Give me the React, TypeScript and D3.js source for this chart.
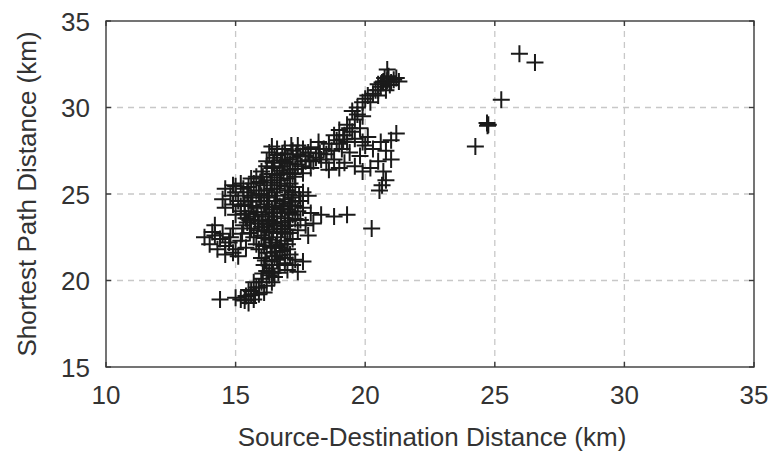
import React from "react";
import * as d3 from "d3";

const xTicks = [10, 15, 20, 25, 30, 35];
const yTicks = [15, 20, 25, 30, 35];

const outliers: [number, number][] = [
  [25.95, 33.1], [26.55, 32.6], [25.25, 30.45], [24.7, 29.1], [24.75, 29.0], [24.72, 28.95],
  [24.25, 27.75], [20.25, 23.0],
];

const upperArm: [number, number][] = [
  [20.85, 32.2], [20.9, 31.8], [21.1, 31.6], [20.7, 31.5], [21.3, 31.5], [20.95, 31.3],
  [20.6, 31.2], [20.4, 31.0], [20.8, 31.0], [21.2, 31.7], [20.3, 30.8], [20.5, 30.7],
  [20.1, 30.7], [19.9, 30.3], [19.7, 30.0], [20.0, 30.5], [19.5, 29.8], [19.9, 29.5],
  [19.6, 29.3], [19.3, 29.0], [19.8, 28.8], [19.5, 28.6], [19.2, 28.4], [19.0, 28.7],
  [19.6, 28.2], [19.3, 28.0], [18.9, 28.1], [18.6, 27.9], [19.9, 28.0], [19.1, 27.6],
  [18.7, 27.5], [19.4, 27.4], [20.0, 27.8], [18.4, 27.6], [19.8, 27.2], [20.1, 28.3],
  [18.5, 26.8], [18.8, 27.0], [19.2, 26.8], [18.6, 26.4], [19.0, 26.5],
  [20.65, 31.45], [20.5, 31.35], [20.75, 31.7], [21.0, 31.45],
  [19.4, 28.8], [19.15, 28.15], [19.7, 29.6], [20.2, 30.3], [19.0, 27.9], [18.8, 28.4],
  [20.5, 31.0], [20.85, 31.55],
];

const rightScatter: [number, number][] = [
  [21.2, 28.5], [21.0, 28.1], [20.6, 28.0], [20.3, 27.6], [20.8, 27.5], [21.0, 27.0],
  [20.5, 26.9], [20.2, 26.5], [19.9, 26.3], [20.7, 26.3], [19.6, 26.6], [20.8, 25.8],
  [20.65, 25.5], [20.55, 25.2], [18.8, 23.7], [19.3, 23.8], [18.3, 23.8], [17.9, 23.9],
];

const mainBlob: [number, number][] = [
  [16.3, 27.4], [16.6, 27.6], [16.9, 27.3], [17.2, 27.5], [17.5, 27.2], [17.8, 27.4],
  [18.1, 27.1], [17.0, 27.0], [16.5, 27.1], [17.7, 26.9], [18.3, 27.0], [16.2, 26.9],
  [16.0, 26.3], [16.4, 26.5], [16.8, 26.6], [17.1, 26.4], [17.4, 26.7], [16.6, 26.1],
  [17.0, 25.9], [17.3, 26.0], [15.8, 26.0], [16.2, 25.8], [17.6, 26.2], [17.9, 26.5],
  [14.6, 25.3], [14.9, 25.5], [15.2, 25.6], [15.5, 25.4], [15.8, 25.2], [16.1, 25.5],
  [16.4, 25.3], [16.7, 25.5], [17.0, 25.2], [17.3, 25.4], [17.6, 25.1], [15.0, 25.1],
  [15.3, 24.9], [15.6, 24.8], [16.0, 24.9], [16.3, 24.8], [16.6, 24.9], [16.9, 24.7],
  [17.2, 24.8], [17.5, 24.6], [17.8, 24.9], [14.5, 24.7],
  [14.6, 24.2], [14.9, 24.4], [15.2, 24.3], [15.5, 24.0], [15.8, 24.2], [16.1, 24.4],
  [16.4, 24.1], [16.7, 24.3], [17.0, 24.1], [17.3, 24.3], [17.6, 24.2], [15.0, 23.8],
  [15.4, 23.6], [15.7, 23.7], [16.0, 23.8], [16.3, 23.5], [16.6, 23.7], [16.9, 23.6],
  [17.2, 23.8], [17.5, 23.5],
  [15.3, 23.2], [15.6, 23.0], [15.9, 23.3], [16.2, 23.1], [16.5, 23.3], [16.8, 23.0],
  [17.1, 23.2], [17.4, 22.9], [16.0, 22.6], [16.3, 22.8], [16.6, 22.5], [16.9, 22.7],
  [17.2, 22.4], [15.7, 22.5],
  [15.8, 22.1], [16.1, 22.0], [16.4, 22.2], [16.7, 21.9], [17.0, 22.1], [16.2, 21.6],
  [16.5, 21.4], [16.8, 21.7], [17.1, 21.5], [17.3, 21.2], [16.0, 21.3],
  [16.1, 20.9], [16.4, 20.7], [16.7, 20.9], [17.0, 20.6], [17.2, 20.9], [16.3, 20.3],
  [16.0, 20.1], [15.7, 19.9], [16.5, 20.2], [15.9, 19.6], [16.2, 19.7], [15.6, 19.4],
  [15.9, 19.2], [15.4, 19.1], [15.7, 18.9], [15.2, 18.9], [15.5, 18.7], [16.1, 19.3],
  [15.0, 19.0],
  [13.8, 22.5], [14.1, 22.8], [14.0, 22.1], [14.4, 22.4], [14.3, 21.8], [14.6, 22.0],
  [14.8, 22.5], [14.6, 21.5], [15.0, 21.8], [15.2, 22.3], [14.9, 23.0], [15.1, 21.4],
  [14.2, 23.2], [15.4, 21.9],
  [14.4, 18.9], [17.4, 20.5], [17.6, 21.1], [17.8, 22.6], [18.0, 23.3], [17.7, 23.2],
];

const blobCore: [number, number][] = [
  [15.65, 24.55], [15.95, 24.6], [16.25, 24.6], [16.55, 24.6], [16.85, 24.45], [17.15, 24.55],
  [15.85, 23.95], [16.15, 23.95], [16.45, 23.9], [16.75, 23.95], [17.05, 23.9], [16.05, 23.45],
  [16.4, 23.4], [16.75, 23.35], [17.05, 23.45], [16.1, 22.85], [16.45, 22.95], [16.75, 22.8],
  [17.0, 22.95], [16.3, 22.35], [16.55, 22.0], [16.9, 22.3], [16.35, 21.9], [16.6, 21.2],
  [16.9, 21.3], [16.4, 21.1], [15.95, 25.7], [16.35, 25.65], [16.75, 25.8], [17.1, 25.6],
  [16.5, 25.95], [16.85, 26.2], [17.2, 26.15], [16.45, 26.8], [16.75, 26.95], [17.1, 26.75],
  [17.35, 27.3], [16.9, 27.6], [17.6, 27.6], [16.6, 27.25], [15.45, 25.1], [15.7, 25.6],
  [15.1, 24.6], [15.35, 24.4], [15.6, 24.3], [14.8, 24.9], [15.45, 23.35], [15.75, 23.45],
  [15.55, 22.75], [15.85, 22.9], [15.9, 21.8], [16.15, 21.15], [16.3, 20.5], [16.65, 20.45],
  [16.0, 19.9], [15.8, 19.6], [15.6, 19.15], [15.35, 18.85], [16.4, 19.9], [16.9, 21.0],
  [15.25, 22.7], [14.5, 22.7], [14.75, 22.2], [14.2, 22.6], [14.9, 21.6],
  [17.9, 27.7], [18.2, 27.6], [17.4, 27.8], [18.0, 26.9], [18.2, 28.0],
];

const blobCore2: [number, number][] = [
  [16.2, 24.25], [16.5, 24.25], [16.8, 24.15], [17.1, 24.35], [16.3, 23.7], [16.6, 23.2],
  [16.9, 23.15], [16.25, 23.25], [16.6, 22.75], [16.15, 22.45], [16.75, 22.1], [17.1, 22.75],
  [17.3, 23.55], [17.4, 24.0], [17.45, 24.9], [17.05, 24.95], [16.5, 25.1], [16.2, 25.2],
  [15.9, 25.0], [16.6, 25.3], [16.9, 25.45], [17.2, 25.1], [16.4, 26.15], [16.7, 26.35],
  [17.0, 26.25], [17.3, 26.45], [16.2, 26.6], [16.9, 26.85], [17.2, 27.1], [17.55, 26.6],
  [17.85, 26.95], [16.8, 27.35], [17.15, 27.8], [16.4, 27.75], [18.5, 27.3], [18.25, 27.35],
  [17.7, 27.2], [16.05, 26.0], [15.6, 25.9], [15.3, 25.3], [15.0, 25.45], [15.2, 24.0],
  [15.5, 24.6], [15.35, 23.85], [15.55, 23.5], [16.0, 23.1], [16.2, 20.55], [16.45, 20.45],
  [16.05, 20.4], [15.75, 19.2], [15.5, 19.45], [16.55, 21.65], [16.7, 21.45], [17.0, 21.8],
];

const allPoints = [...mainBlob, ...blobCore, ...blobCore2, ...upperArm, ...rightScatter, ...outliers];

const W = 774;
const H = 453;
const left = 106;
const right = 754;
const top = 21;
const bottom = 367;

export default function App() {
  const x = d3.scaleLinear().domain([10, 35]).range([left, right]);
  const y = d3.scaleLinear().domain([15, 35]).range([bottom, top]);
  const arm = 8.5;
  const frame = "#3a3a3a";
  const font = "'Liberation Sans', Arial, Helvetica, sans-serif";
  return (
    <svg
      width={W}
      height={H}
      style={{ position: "absolute", left: 0, top: 0, background: "#fff" }}
    >
      {xTicks.slice(1, -1).map((t) => (
        <line key={"gx" + t} x1={x(t)} x2={x(t)} y1={bottom} y2={top}
          stroke="#c8c8c8" strokeWidth={1.3} strokeDasharray="6,5" />
      ))}
      {yTicks.slice(1, -1).map((t) => (
        <line key={"gy" + t} x1={left} x2={right} y1={y(t)} y2={y(t)}
          stroke="#c8c8c8" strokeWidth={1.3} strokeDasharray="6,5" />
      ))}
      <g stroke="#1a1a1a" strokeWidth={2}>
        {allPoints.map(([px, py], i) => (
          <path key={i}
            d={`M${x(px) - arm},${y(py)}H${x(px) + arm}M${x(px)},${y(py) - arm}V${y(py) + arm}`} />
        ))}
      </g>
      <rect x={left} y={top} width={right - left} height={bottom - top}
        fill="none" stroke={frame} strokeWidth={1.4} />
      {xTicks.map((t) => (
        <g key={"tx" + t}>
          <line x1={x(t)} x2={x(t)} y1={bottom} y2={bottom - 5} stroke={frame} strokeWidth={1.4} />
          <line x1={x(t)} x2={x(t)} y1={top} y2={top + 5} stroke={frame} strokeWidth={1.4} />
          <text x={x(t)} y={404} textAnchor="middle" fontSize={26} fill="#333" fontFamily={font}>{t}</text>
        </g>
      ))}
      {yTicks.map((t) => (
        <g key={"ty" + t}>
          <line x1={left} x2={left + 5} y1={y(t)} y2={y(t)} stroke={frame} strokeWidth={1.4} />
          <line x1={right} x2={right - 5} y1={y(t)} y2={y(t)} stroke={frame} strokeWidth={1.4} />
          <text x={90} y={y(t) + 9.5} textAnchor="end" fontSize={26} fill="#333" fontFamily={font}>{t}</text>
        </g>
      ))}
      <text x={432} y={446} textAnchor="middle" fontSize={26} fill="#333" fontFamily={font}>
        Source-Destination Distance (km)
      </text>
      <text transform={`translate(36,${(top + bottom) / 2}) rotate(-90)`} textAnchor="middle"
        fontSize={26} fill="#333" fontFamily={font}>
        Shortest Path Distance (km)
      </text>
    </svg>
  );
}
